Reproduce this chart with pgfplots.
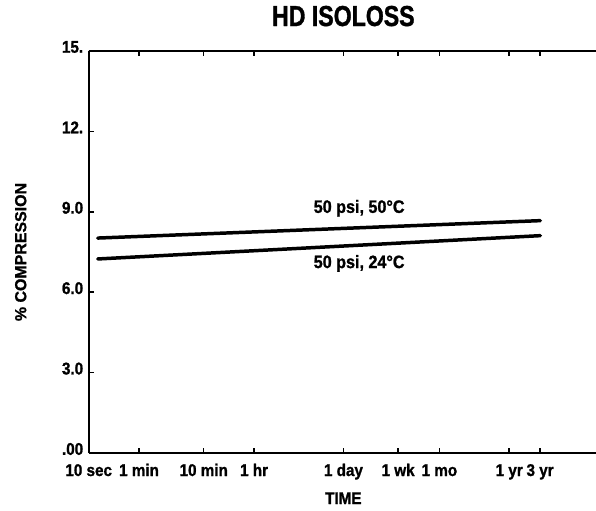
\documentclass[border=0pt]{standalone}
\usepackage{pgfplots}
\pgfplotsset{compat=1.18}
\usepackage{fontspec}
\setmainfont{Liberation Sans}
\newfontfamily\condfont[FakeStretch=0.8, BoldFeatures={FakeBold=1.2}]{Liberation Sans}
\newfontfamily\tickfont[FakeStretch=0.9, BoldFeatures={FakeBold=1.2}]{Liberation Sans}
\newfontfamily\labfont[BoldFeatures={FakeBold=1.2}]{Liberation Sans}
\begin{document}
\begin{tikzpicture}
\begin{axis}[
  scale only axis,
  width=507.3bp, height=402bp,
  xmin=1, xmax=8.84, ymin=0, ymax=15,
  axis x line=box, axis y line=left,
  axis line style={-, line width=2.2pt, black},
  tick align=inside,
  major tick length=5bp,
  tick style={line width=1.5pt, black},
  xtick={1,1.778,2.778,3.556,4.937,5.782,6.42,7.499,7.976},
  xticklabels={10 sec,1 min,10 min,1 hr,1 day,1 wk,1 mo,1 yr,3 yr},
  ytick={0,3,6,9,12,15},
  yticklabels={.00,3.0,6.0,9.0,12.,15.},
  ticklabel style={font=\tickfont\fontsize{17}{19}\selectfont\bfseries},
  xticklabel style={anchor=base, yshift=-23bp},
  yticklabel style={xshift=-2bp, yshift=4bp},
  title={\condfont\fontsize{29}{33}\selectfont\bfseries HD ISOLOSS},
  title style={at={(rel axis cs:0.502,1)}, anchor=base, yshift=19bp},
  xlabel={\tickfont\fontsize{17}{19}\selectfont\bfseries TIME},
  xlabel style={at={(rel axis cs:0.502,-0.127)}, anchor=base},
  ylabel={\labfont\fontsize{16}{18}\selectfont\bfseries \% COMPRESSION},
  ylabel style={at={(rel axis cs:-0.134,0.5)}, anchor=center},
  clip=false,
]
\addplot[black, line width=3.5pt, line cap=round] coordinates {(1.14,8.02) (7.98,8.67)};
\addplot[black, line width=3.5pt, line cap=round] coordinates {(1.14,7.24) (7.98,8.11)};
\node[font=\tickfont\fontsize{18}{20}\selectfont\bfseries, anchor=base] at (axis cs:5.18,8.96) {50 psi, 50°C};
\node[font=\tickfont\fontsize{18}{20}\selectfont\bfseries, anchor=base] at (axis cs:5.18,6.90) {50 psi, 24°C};
\end{axis}
\pgfresetboundingbox
\path (-88.7bp,-58bp) rectangle (507.3bp,453bp);
\end{tikzpicture}
\end{document}
